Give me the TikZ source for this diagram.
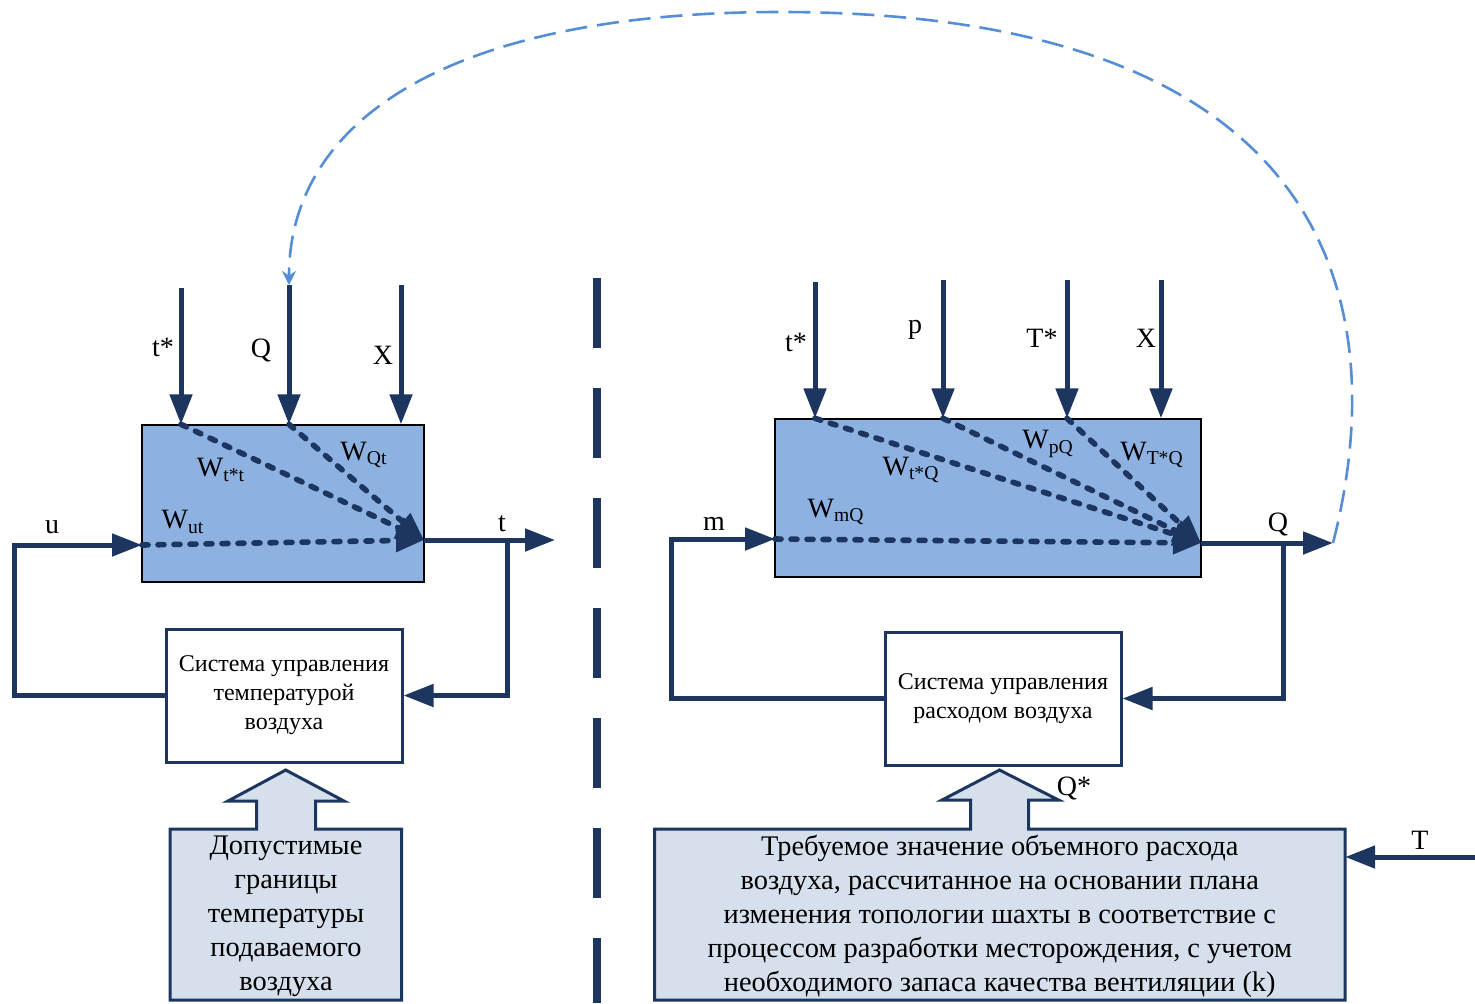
\documentclass[tikz,border=0pt]{standalone}
\usepackage{fontspec}
\setmainfont{Liberation Serif}
\usetikzlibrary{arrows.meta,positioning}

\definecolor{navy}{RGB}{29,54,96}
\definecolor{plantblue}{RGB}{141,178,226}
\definecolor{paleblue}{RGB}{214,223,236}
\definecolor{linkblue}{RGB}{85,142,213}

\tikzset{
  sig/.style={navy, line width=2.5pt, -{Triangle[length=15pt,width=11pt]}},
  wpath/.style={navy, line width=2.8pt, line cap=round, dash pattern=on 3pt off 5pt,
    -{Triangle[length=14pt,width=11pt]}},
  plant/.style={draw=black, line width=0.7pt, fill=plantblue, inner sep=0pt},
  ctrl/.style={draw=navy, line width=1.5pt, fill=white, align=center, font=\fontsize{12}{14.5}\selectfont},
  lbl/.style={font=\fontsize{14}{16}\selectfont, inner sep=0pt},
  wlbl/.style={font=\fontsize{14}{16}\selectfont, inner sep=0pt},
  req/.style={draw=navy, line width=1.5pt, fill=paleblue},
  reqtext/.style={align=center, font=\fontsize{14.2}{17}\selectfont},
}

\begin{document}
\begin{tikzpicture}[x=0.5pt,y=-0.5pt]
\useasboundingbox (0,0) rectangle (1475,1003);

% ---- temperature loop
\node[plant, minimum width=141pt, minimum height=78.5pt] (plantT) at (283,503.5) {};
\node[ctrl, minimum width=118pt, minimum height=66.5pt] (ctrlT) at (284,695.5)
  {Система управления\\температурой\\воздуха};

\coordinate (inTs) at (181,288);
\coordinate (inTQ) at (289,285);
\coordinate (inTX) at (401,285);
\foreach \c in {inTs,inTQ,inTX}
  \draw[sig] (\c) -- (\c |- plantT.north);
\node[lbl] (labTs) at (163,347) {t*};
\node[lbl] (labTQ) at (261,350) {Q};
\node[lbl] (labTX) at (383,355) {X};

\coordinate (outT) at (424,540);
\coordinate (uIn) at (142,545);
\draw[wpath] (inTs |- plantT.north) -- (outT);
\draw[wpath] (inTQ |- plantT.north) -- (outT);
\draw[wpath] (uIn) -- (outT);
\node[wlbl] (wTst) at (221,470) {W\textsubscript{t*t}};
\node[wlbl] (wQt) at (364,455) {W\textsubscript{Qt}};
\node[wlbl] (wut) at (183,522) {W\textsubscript{ut}};

\coordinate (tOut) at (555,540);
\coordinate (tBr) at (507,540);
\coordinate (uCorner) at (14,545);
\draw[sig] (outT) -- (tOut);
\draw[sig] (tBr) |- (ctrlT.east);
\draw[sig] (ctrlT.west) -| (uCorner) -- (uIn);
\node[lbl] (labt) at (502,524) {t};
\node[lbl] (labu) at (52,527) {u};

\draw[req] (170,829) -- (256.7,829) -- (256.7,801) -- (228,801) -- (285.7,770)
  -- (344,801) -- (315.7,801) -- (315.7,829) -- (401.5,829) -- (401.5,1000)
  -- (170,1000) -- cycle;
\node[reqtext] (limT) at (286,916)
  {Допустимые\\границы\\температуры\\подаваемого\\воздуха};

% ---- separator
\draw[navy, line width=4pt, dash pattern=on 35pt off 20pt] (597,278) -- (597,1003);

% ---- air flow loop
\node[plant, minimum width=213pt, minimum height=79pt] (plantQ) at (988,498) {};
\node[ctrl, minimum width=118pt, minimum height=66.5pt] (ctrlQ) at (1003,698.5)
  {Система управления\\расходом воздуха};

\coordinate (inQt) at (815,282);
\coordinate (inQp) at (943,280);
\coordinate (inQT) at (1067,280);
\coordinate (inQX) at (1161,280);
\foreach \c in {inQt,inQp,inQT,inQX}
  \draw[sig] (\c) -- (\c |- plantQ.north);
\node[lbl] (labQt) at (796,342) {t*};
\node[lbl] (labQp) at (915,330) {p};
\node[lbl] (labQT) at (1042,338) {T*};
\node[lbl] (labQX) at (1146,338) {X};

\coordinate (outQ) at (1201,543);
\coordinate (mIn) at (775,539);
\draw[wpath] (inQt |- plantQ.north) -- (outQ);
\draw[wpath] (inQp |- plantQ.north) -- (outQ);
\draw[wpath] (inQT |- plantQ.north) -- (outQ);
\draw[wpath] (mIn) -- (outQ);
\node[wlbl] (wtQ) at (911,470) {W\textsubscript{t*Q}};
\node[wlbl] (wpQ) at (1048,444) {W\textsubscript{pQ}};
\node[wlbl] (wTQ) at (1152,455) {W\textsubscript{T*Q}};
\node[wlbl] (wmQ) at (836,512) {W\textsubscript{mQ}};

\coordinate (qOut) at (1333,543);
\coordinate (qBr) at (1283,543);
\coordinate (mCorner) at (671,539);
\draw[sig] (outQ) -- (qOut);
\draw[sig] (qBr) |- (ctrlQ.east);
\draw[sig] (ctrlQ.west) -| (mCorner) -- (mIn);
\node[lbl] (labQ) at (1278,524) {Q};
\node[lbl] (labm) at (714,524) {m};

\draw[req] (654.5,829) -- (970.5,829) -- (970.5,800) -- (942,800) -- (999.5,770)
  -- (1058.5,800) -- (1028.6,800) -- (1028.6,829) -- (1345,829) -- (1345,1000)
  -- (654.5,1000) -- cycle;
\node[reqtext, minimum width=345pt, minimum height=85.5pt] (reqQ) at (999.75,916)
  {Требуемое значение объемного расхода\\воздуха, рассчитанное на основании плана\\изменения топологии шахты в соответствие с\\процессом разработки месторождения, с учетом\\необходимого запаса качества вентиляции (k)};
\node[lbl] (labQs) at (1074,788) {Q*};

\coordinate (Tin) at (1475,857);
\draw[sig] (Tin) -- (Tin -| reqQ.east);
\node[lbl] (labT) at (1420,840) {T};

% ---- link Q -> left block
\draw[linkblue, line width=1.3pt, dash pattern=on 11pt off 5pt,
      -{Stealth[length=7pt,width=7pt]}]
  (qOut) .. controls (1395,300) and (1330,12) .. (780,12)
         .. controls (450,12) and (289,120) .. (inTQ);
\end{tikzpicture}
\end{document}
